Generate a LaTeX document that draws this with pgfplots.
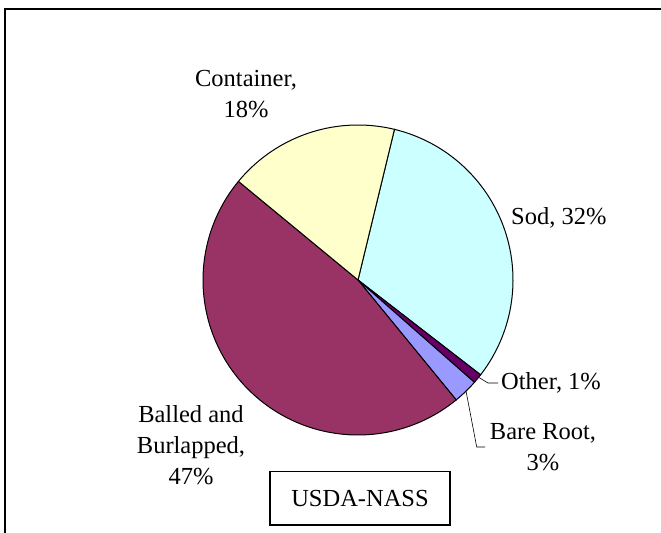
\documentclass[border=0pt]{standalone}
\usepackage{pgfplots}
\pgfplotsset{compat=1.18}
\usepackage{fontspec}
\setmainfont{Liberation Serif}
\definecolor{sod}{HTML}{CCFFFF}
\definecolor{other}{HTML}{660066}
\definecolor{bare}{HTML}{9999FF}
\definecolor{balled}{HTML}{993366}
\definecolor{container}{HTML}{FFFFCC}
% shares (percent), clockwise from the start angle
\def\vSod{31.7}
\def\vOther{1.0}
\def\vBare{2.6}
\def\vBalled{46.9}
\def\vContainer{17.8}
\def\startang{76.4}
\pgfmathsetmacro\aA{\startang}
\pgfmathsetmacro\aB{\aA-3.6*\vSod}
\pgfmathsetmacro\aC{\aB-3.6*\vOther}
\pgfmathsetmacro\aD{\aC-3.6*\vBare}
\pgfmathsetmacro\aE{\aD-3.6*\vBalled}
\pgfmathsetmacro\aF{\aE-3.6*\vContainer}
\def\cx{358}
\def\cy{253}
\def\rr{155}
\tikzset{lbl/.style={font=\fontsize{24.5bp}{31bp}\selectfont}}
\begin{document}
\begin{tikzpicture}
\begin{axis}[name=ax, hide axis, scale only axis, width=661bp, height=533bp,
  xmin=0, xmax=661, ymin=0, ymax=533, clip=false]
\addplot[fill=sod, draw=black, line width=1bp, domain=\aB:\aA, samples=80] ({\cx+\rr*cos(x)},{\cy+\rr*sin(x)}) -- (axis cs:\cx,\cy) -- cycle;
\addplot[fill=other, draw=black, line width=1bp, domain=\aC:\aB, samples=5] ({\cx+\rr*cos(x)},{\cy+\rr*sin(x)}) -- (axis cs:\cx,\cy) -- cycle;
\addplot[fill=bare, draw=black, line width=1bp, domain=\aD:\aC, samples=8] ({\cx+\rr*cos(x)},{\cy+\rr*sin(x)}) -- (axis cs:\cx,\cy) -- cycle;
\addplot[fill=balled, draw=black, line width=1bp, domain=\aE:\aD, samples=100] ({\cx+\rr*cos(x)},{\cy+\rr*sin(x)}) -- (axis cs:\cx,\cy) -- cycle;
\addplot[fill=container, draw=black, line width=1bp, domain=\aF:\aE, samples=50] ({\cx+\rr*cos(x)},{\cy+\rr*sin(x)}) -- (axis cs:\cx,\cy) -- cycle;
% labels
\node[lbl, align=center] at (axis cs:246,438.5) {Container,\\18\%};
\node[lbl, anchor=west, inner sep=0pt] at (axis cs:511,315) {Sod, 32\%};
\node[lbl, anchor=west, inner sep=0pt] at (axis cs:501,150) {Other, 1\%};
\node[lbl, align=center] at (axis cs:543,86) {Bare Root,\\3\%};
\node[lbl, align=center] at (axis cs:191,88) {Balled and\\Burlapped,\\47\%};
\draw[line width=0.6bp] (axis cs:479,155.5) -- (axis cs:488,150) -- (axis cs:498,150);
\draw[line width=0.6bp] (axis cs:466,142) -- (axis cs:476.7,86) -- (axis cs:485,86);
\draw[line width=1.2bp, fill=white] (axis cs:270,8) rectangle (axis cs:450,61.3);
\node[lbl] at (axis cs:360,34.6) {USDA-NASS};
% frame
\draw[line width=1.6bp] (axis cs:5,-30) -- (axis cs:5,524) -- (axis cs:700,524);
\end{axis}
\pgfresetboundingbox
\path (ax.south west) rectangle (ax.north east);
\end{tikzpicture}
\end{document}
